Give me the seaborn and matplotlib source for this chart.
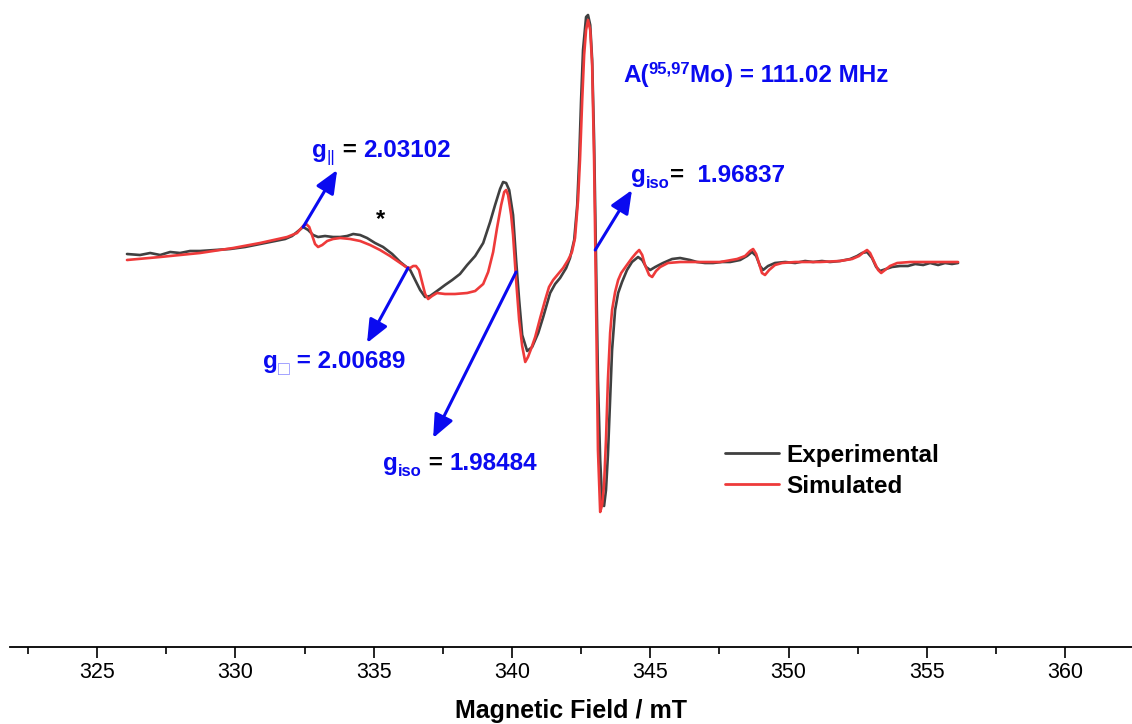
import numpy as np
import pandas as pd
import matplotlib
matplotlib.use("Agg")
import matplotlib.pyplot as plt
import matplotlib.transforms as mtransforms
from matplotlib.ticker import AutoMinorLocator
from matplotlib.lines import Line2D
import seaborn as sns

# ---------------- data ----------------
exp_field = [326.08, 326.55, 326.92, 327.28, 327.64, 328.00, 328.36, 328.72, 329.27, 329.81,
             330.35, 330.71, 331.07, 331.44, 331.80, 332.05, 332.27, 332.45, 332.63, 332.81,
             332.99, 333.24, 333.53, 333.79, 334.04, 334.26, 334.51, 334.76, 335.05, 335.34,
             335.67, 335.96, 336.14, 336.32, 336.50, 336.68, 336.86, 337.04, 337.29, 337.58,
             337.84, 338.12, 338.38, 338.67, 338.96, 339.21, 339.39, 339.57, 339.68, 339.79,
             339.90, 340.04, 340.15, 340.26, 340.37, 340.55, 340.73, 340.95, 341.13, 341.38,
             341.56, 341.74, 341.96, 342.10, 342.25, 342.36, 342.43, 342.50, 342.57, 342.68,
             342.75, 342.83, 342.90, 342.97, 343.04, 343.11, 343.19, 343.26, 343.33, 343.40,
             343.47, 343.55, 343.62, 343.73, 343.84, 343.98, 344.16, 344.34, 344.56, 344.71,
             344.85, 345.00, 345.18, 345.46, 345.79, 346.08, 346.44, 346.69, 346.98, 347.27,
             347.60, 347.89, 348.25, 348.50, 348.68, 348.83, 348.97, 349.08, 349.26, 349.51,
             349.88, 350.24, 350.60, 350.89, 351.21, 351.50, 351.86, 352.23, 352.48, 352.66,
             352.84, 353.02, 353.17, 353.31, 353.53, 353.74, 354.03, 354.32, 354.58, 354.87,
             355.12, 355.41, 355.66, 355.91, 356.13]
exp_signal = [8, 7, 9, 7, 10, 9, 11, 11, 12, 13,
              15, 17, 19, 21, 23, 26, 31, 35, 32, 27,
              25, 26, 25, 25, 26, 28, 27, 24, 19, 15,
              8, 0, -4, -8, -18, -28, -35, -34, -29, -23,
              -18, -12, -3, 6, 19, 40, 57, 73, 80, 79,
              72, 47, 2, -38, -73, -89, -85, -71, -55, -31,
              -22, -16, -6, 4, 22, 57, 102, 162, 212, 245,
              247, 237, 202, 122, 2, -118, -198, -238, -244, -228,
              -193, -138, -88, -48, -31, -20, -8, 0, 5, 2,
              -5, -8, -5, -1, 3, 4, 2, 0, -1, -1,
              0, 0, 2, 6, 10, 6, -4, -8, -4, -1,
              0, -1, 1, 0, 1, 0, 1, 3, 6, 9,
              10, 4, -5, -9, -7, -5, -4, -4, -2, -3,
              -1, -3, -1, -2, -1]

sim_field = [326.08, 327.28, 328.72, 329.92, 330.89, 331.87, 332.23, 332.45, 332.56, 332.67,
             332.77, 332.88, 332.99, 333.14, 333.32, 333.53, 333.79, 334.15, 334.51, 334.87,
             335.23, 335.59, 335.96, 336.17, 336.32, 336.43, 336.53, 336.64, 336.75, 336.86,
             336.97, 337.11, 337.29, 337.58, 337.94, 338.38, 338.67, 338.96, 339.14, 339.32,
             339.46, 339.61, 339.72, 339.79, 339.86, 339.97, 340.04, 340.15, 340.26, 340.37,
             340.48, 340.58, 340.69, 340.84, 341.02, 341.20, 341.34, 341.49, 341.67, 341.85,
             342.03, 342.17, 342.28, 342.39, 342.46, 342.54, 342.61, 342.68, 342.75, 342.83,
             342.90, 342.97, 343.04, 343.11, 343.19, 343.26, 343.33, 343.40, 343.47, 343.55,
             343.62, 343.73, 343.84, 343.95, 344.13, 344.34, 344.49, 344.60, 344.71, 344.81,
             344.96, 345.07, 345.21, 345.36, 345.64, 346.08, 346.80, 347.53, 348.14, 348.43,
             348.61, 348.72, 348.83, 348.94, 349.04, 349.15, 349.30, 349.51, 349.77, 350.24,
             351.14, 351.86, 352.30, 352.55, 352.73, 352.84, 352.95, 353.10, 353.24, 353.35,
             353.49, 353.67, 353.93, 354.40, 355.12, 356.13]
sim_signal = [2, 5, 9, 14, 19, 25, 29, 36, 38, 35,
              27, 18, 15, 17, 21, 23, 24, 23, 21, 17,
              12, 6, -1, -5, -6, -4, -4, -8, -20, -32,
              -37, -34, -31, -32, -32, -31, -29, -22, -10, 10,
              34, 57, 70, 72, 67, 47, 27, -18, -58, -84,
              -100, -95, -87, -75, -56, -38, -25, -18, -12, -6,
              2, 10, 24, 62, 102, 162, 207, 232, 242, 232,
              197, 102, -38, -188, -250, -243, -223, -178, -118, -71,
              -48, -30, -18, -11, -4, 4, 9, 12, 7, -3,
              -13, -15, -9, -5, -1, 0, 0, 0, 3, 6,
              11, 13, 8, -2, -11, -13, -8, -3, -1, 0,
              0, 1, 3, 6, 10, 12, 9, 0, -8, -11,
              -8, -4, -1, 0, 0, 0]

series_labels = ["Experimental", "Simulated"]
major_ticks = [325, 330, 335, 340, 345, 350, 355, 360]
x_label = "Magnetic Field / mT"

# ---------------- style ----------------
sns.set_style("white")
plt.rcParams["font.family"] = ["Liberation Sans", "DejaVu Sans"]
plt.rcParams["text.color"] = "black"
plt.rcParams["axes.labelcolor"] = "black"
plt.rcParams["xtick.color"] = "black"

BLUE = "#0a0af0"
GRAY = "#404040"
RED = "#ee3a3a"
FS = 17.5

fig = plt.figure(figsize=(11.32, 7.24), dpi=100)
ax = fig.add_axes([10 / 1132, 1 - 647 / 724, 1 - 10 / 1132, 647 / 724])

df = pd.concat([
    pd.DataFrame({"field": exp_field, "signal": exp_signal, "trace": series_labels[0]}),
    pd.DataFrame({"field": sim_field, "signal": sim_signal, "trace": series_labels[1]}),
], ignore_index=True)

sns.lineplot(data=df, x="field", y="signal", hue="trace", hue_order=series_labels,
             palette={series_labels[0]: GRAY, series_labels[1]: RED},
             estimator=None, sort=False, linewidth=1.9, ax=ax, legend=False)

ax.set_xlim(321.85, 362.42)
ax.set_ylim(-385, 262)
ax.set_yticks([])
ax.set_ylabel("")
for s in ["top", "left", "right"]:
    ax.spines[s].set_visible(False)
ax.spines["bottom"].set_linewidth(1.3)
ax.spines["bottom"].set_color("black")

ax.set_xticks(major_ticks)
ax.set_xticklabels([str(t) for t in major_ticks])
ax.xaxis.set_minor_locator(AutoMinorLocator(2))
ax.tick_params(axis="x", which="major", direction="out", length=8, width=1.2,
               labelsize=15.5, pad=3, bottom=True, colors="black", labelcolor="black")
ax.tick_params(axis="x", which="minor", direction="out", length=5, width=1.2,
               bottom=True, colors="black")
ax.set_xlabel(x_label, fontsize=18, fontweight="bold", labelpad=11, color="black")

# legend
handles = [Line2D([], [], color=GRAY, lw=2), Line2D([], [], color=RED, lw=2)]
leg = ax.legend(handles, series_labels, loc="upper left", bbox_to_anchor=(0.637, 0.314),
                frameon=False, prop=dict(weight="bold", size=FS), handlelength=2.25,
                handletextpad=0.3, borderpad=0, borderaxespad=0, labelspacing=0.33)
for t in leg.get_texts():
    t.set_color("black")

# arrows
arrow_kw = dict(arrowstyle="-|>,head_length=0.7,head_width=0.3", color=BLUE, lw=2.2,
                mutation_scale=20, shrinkA=0, shrinkB=0)
arrows = [((332.45, 35), (333.68, 92)),
          ((336.24, -6), (334.76, -81)),
          ((340.15, -10), (337.15, -176)),
          ((343.01, 12), (344.34, 72))]
for tail, head in arrows:
    ax.annotate("", xy=head, xytext=tail, arrowprops=arrow_kw)

renderer = fig.canvas.get_renderer()


def rich_text(x, y, pieces):
    dx = 0.0
    for txt, size, color, weight, dy in pieces:
        tr = mtransforms.offset_copy(ax.transData, fig=fig, x=dx, y=dy, units="dots")
        t = ax.text(x, y, txt, fontsize=size, color=color, fontweight=weight,
                    ha="left", va="baseline", transform=tr)
        dx += t.get_window_extent(renderer).width


rich_text(332.77, 105, [("g", FS, BLUE, "bold", 0), ("||", 12, BLUE, "normal", -5),
                        (" = ", FS, "black", "bold", 0), ("2.03102", FS, BLUE, "bold", 0)])
rich_text(331.00, -106, [("g", FS, BLUE, "bold", 0), ("\u25a1", 14, "#8a8aff", "normal", -7),
                         (" = 2.00689", FS, BLUE, "bold", 0)])
rich_text(335.34, -208, [("g", FS, BLUE, "bold", 0), ("iso", 12, BLUE, "bold", -6),
                         (" = ", FS, "black", "bold", 0), ("1.98484", FS, BLUE, "bold", 0)])
rich_text(344.31, 80, [("g", FS, BLUE, "bold", 0), ("iso", 12, BLUE, "bold", -6),
                       ("=", FS, "black", "bold", 0), ("  1.96837", FS, BLUE, "bold", 0)])
rich_text(344.02, 180, [("A(", FS, BLUE, "bold", 0), ("95,97", 12, BLUE, "bold", 9),
                        ("Mo) = 111.02 MHz", FS, BLUE, "bold", 0)])
ax.text(335.23, 42, "*", fontsize=17, ha="center", va="center", fontweight="bold", color="black")

fig.savefig("out.png", dpi=100)
